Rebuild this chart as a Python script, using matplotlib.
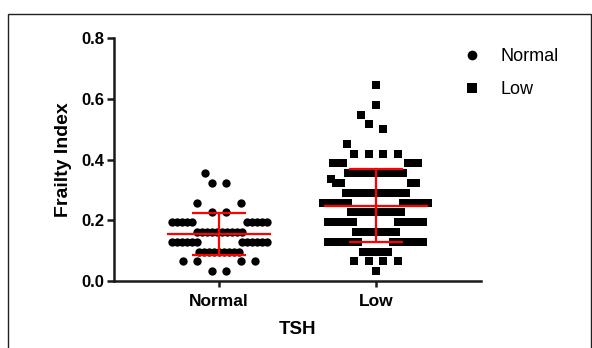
import numpy as np
import matplotlib
matplotlib.use("Agg")
import matplotlib.pyplot as plt
from matplotlib.lines import Line2D
from matplotlib.patches import Rectangle

plt.rcParams["font.family"] = ["Liberation Sans", "DejaVu Sans"]

groups = ["Normal", "Low"]

# Frailty index levels (k/31) and how many subjects sit on each level
normal_levels = [0.032, 0.065, 0.097, 0.129, 0.161, 0.194, 0.226, 0.258, 0.323, 0.355]
normal_counts = [2, 4, 9, 12, 10, 10, 2, 2, 2, 1]

low_levels = [0.032, 0.065, 0.097, 0.129, 0.161, 0.194, 0.226, 0.258, 0.290,
              0.323, 0.336, 0.355, 0.387, 0.419, 0.452, 0.516, 0.500, 0.548,
              0.580, 0.645]
low_counts = [1, 4, 6, 14, 9, 12, 11, 12, 13, 4, 1, 12, 6, 4, 1, 1, 1, 1, 1, 1]

# mean and SD bars as drawn on the chart
means = [0.154, 0.248]
sds = [0.070, 0.120]

STEP = 1 / 31  # index built from 31 deficits -> one row per level
DENSE_PX, SPARSE_PX = 5.0, 14.5


def swarm_offsets(values):
    # Prism-like rows: a row either sits in the middle or is pushed to the
    # sides of the row just below it
    values = np.asarray(values)
    bins = np.round(values / STEP).astype(int)
    offsets = np.zeros(len(values))
    placed = {}
    for b in sorted(set(bins)):
        idx = np.where(bins == b)[0]
        n = len(idx)
        sp = SPARSE_PX if n <= 4 else DENSE_PX
        start = sp / 2 if n % 2 == 0 else 0.0
        limit = -1.0
        below = placed.get(b - 1)
        if below is not None:
            b_off, b_dense = below
            if (n <= 4 or b_dense) and np.min(np.abs(b_off)) < 10:
                limit = np.max(np.abs(b_off)) + 2
        cand = start + sp * np.arange(-30, 31)
        cand = cand[np.abs(cand) > limit]
        cand = sorted(cand, key=lambda c: (abs(c), c))
        pos = np.array(cand[:n])
        offsets[idx] = pos
        placed[b] = (pos, n > 4)
    return offsets


normal_vals = np.repeat(normal_levels, normal_counts)
low_vals = np.repeat(low_levels, low_counts)

fig = plt.figure(figsize=(5.92, 3.48), dpi=100)
ax = fig.add_axes([114 / 592, 67 / 348, (481 - 114) / 592, 243 / 348])
ax.set_xlim(-0.67, 1.67)
ax.set_ylim(0, 0.8)

px_per_x = ax.transData.transform((1, 0))[0] - ax.transData.transform((0, 0))[0]

for i, (vals, marker) in enumerate([(normal_vals, "o"), (low_vals, "s")]):
    x = i + swarm_offsets(vals) / px_per_x
    ax.plot(x, vals, marker, color="black", markersize=6, mew=0,
            linestyle="none", zorder=2, clip_on=False)

# mean +/- SD
for i in range(len(groups)):
    m, s = means[i], sds[i]
    ax.hlines(m, i - 0.33, i + 0.33, color="red", lw=1.6, zorder=3)
    ax.hlines([m - s, m + s], i - 0.17, i + 0.17, color="red", lw=1.6, zorder=3)
    ax.vlines(i, m - s, m + s, color="red", lw=1.6, zorder=3)

for side in ["top", "right"]:
    ax.spines[side].set_visible(False)
for side in ["left", "bottom"]:
    ax.spines[side].set_linewidth(1.8)
    ax.spines[side].set_color("#1a1a1a")

ax.set_yticks([0.0, 0.2, 0.4, 0.6, 0.8])
ax.set_yticklabels([f"{t:.1f}" for t in [0.0, 0.2, 0.4, 0.6, 0.8]],
                   fontsize=12, fontweight="bold")
ax.set_xticks(range(len(groups)))
ax.set_xticklabels(groups, fontsize=12.5, fontweight="bold")
ax.tick_params(axis="y", length=5, width=1.8, pad=2, color="#1a1a1a")
ax.tick_params(axis="x", length=4.5, width=1.8, pad=5, color="#1a1a1a")

ax.set_xlabel("TSH", fontsize=13.5, fontweight="bold", va="center")
ax.xaxis.set_label_coords(0.5, (281 - 329.5) / 243)
ax.set_ylabel("Frailty Index", fontsize=14, fontweight="bold",
              ha="center", va="center")
ax.yaxis.set_label_coords((64 - 114) / 367, 0.5)

handles = [
    Line2D([], [], marker="o", color="black", linestyle="none", markersize=7, mew=0),
    Line2D([], [], marker="s", color="black", linestyle="none", markersize=6.5, mew=0),
]
ax.legend(handles, groups, loc="upper left", frameon=False, fontsize=13,
          bbox_to_anchor=(456 / 592, 1 - 41 / 348), bbox_transform=fig.transFigure,
          handlelength=1.0, handletextpad=1.05, labelspacing=0.87, borderaxespad=0)

# outer frame of the panel
fig.patches.append(Rectangle((8 / 592, -0.1), (590.5 - 8) / 592, 1.1 - 14 / 348,
                             transform=fig.transFigure, fill=False,
                             lw=1.0, ec="#222222"))

fig.savefig("out.png", dpi=100)
